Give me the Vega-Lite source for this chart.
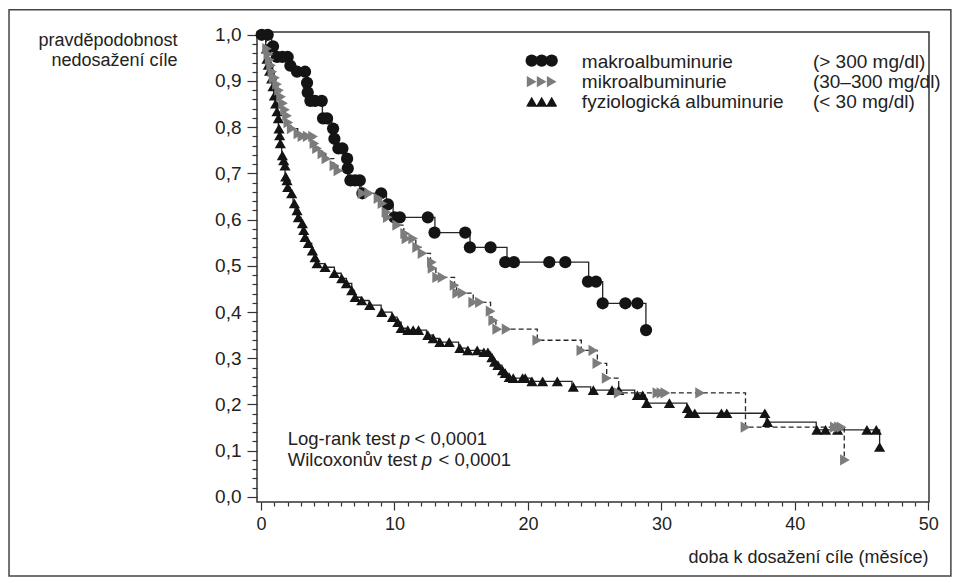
{
  "$schema": "https://vega.github.io/schema/vega-lite/v6.json",
  "width": 672,
  "height": 470,
  "autosize": {"type": "none"},
  "padding": {"left": 257, "top": 32, "right": 29, "bottom": 81},
  "background": "white",
  "config": {
    "font": "Liberation Sans",
    "view": {"stroke": "#333", "strokeWidth": 1.5},
    "axis": {"grid": false, "domain": false, "tickColor": "#333", "tickWidth": 1.2, "labelColor": "#222", "titleColor": "#222", "labelFont": "Liberation Sans", "titleFont": "Liberation Sans", "titleFontWeight": "normal", "labelOverlap": false, "labelBound": false, "labelFlush": false}
  },
  "datasets": {
    "makro_steps": [
      {"t": 0, "s": 1}, {"t": 0.8, "s": 0.975}, {"t": 1.15, "s": 0.952}, {"t": 2.1, "s": 0.933}, {"t": 2.6, "s": 0.92},
      {"t": 3.4, "s": 0.896}, {"t": 3.48, "s": 0.875}, {"t": 3.6, "s": 0.857}, {"t": 4.6, "s": 0.819}, {"t": 5.3, "s": 0.797},
      {"t": 5.45, "s": 0.775}, {"t": 5.75, "s": 0.754}, {"t": 6.35, "s": 0.732}, {"t": 6.45, "s": 0.711}, {"t": 6.6, "s": 0.685},
      {"t": 7.5, "s": 0.657}, {"t": 9.4, "s": 0.633}, {"t": 9.9, "s": 0.605}, {"t": 13.03, "s": 0.572}, {"t": 15.66, "s": 0.54},
      {"t": 18.43, "s": 0.508}, {"t": 24.55, "s": 0.466}, {"t": 25.6, "s": 0.419}, {"t": 28.84, "s": 0.361}
    ],
    "makro_pts": [
      {"t": 0.05, "s": 1}, {"t": 0.5, "s": 1}, {"t": 0.9, "s": 0.975}, {"t": 1.2, "s": 0.952}, {"t": 1.6, "s": 0.952},
      {"t": 2.0, "s": 0.952}, {"t": 2.2, "s": 0.933}, {"t": 2.7, "s": 0.92}, {"t": 3.3, "s": 0.92}, {"t": 3.45, "s": 0.896},
      {"t": 3.5, "s": 0.875}, {"t": 3.7, "s": 0.857}, {"t": 4.05, "s": 0.857}, {"t": 4.55, "s": 0.857}, {"t": 4.65, "s": 0.819},
      {"t": 4.95, "s": 0.819}, {"t": 5.4, "s": 0.797}, {"t": 5.5, "s": 0.775}, {"t": 5.8, "s": 0.754}, {"t": 6.1, "s": 0.754},
      {"t": 6.45, "s": 0.732}, {"t": 6.5, "s": 0.711}, {"t": 6.7, "s": 0.685}, {"t": 7.05, "s": 0.685}, {"t": 7.4, "s": 0.685},
      {"t": 7.6, "s": 0.657}, {"t": 9.0, "s": 0.657}, {"t": 9.5, "s": 0.633}, {"t": 10.0, "s": 0.605}, {"t": 10.4, "s": 0.605},
      {"t": 12.5, "s": 0.605}, {"t": 13.0, "s": 0.572}, {"t": 15.3, "s": 0.572}, {"t": 15.65, "s": 0.54}, {"t": 17.2, "s": 0.54},
      {"t": 18.3, "s": 0.508}, {"t": 18.95, "s": 0.508}, {"t": 21.6, "s": 0.508}, {"t": 22.8, "s": 0.508}, {"t": 24.5, "s": 0.466},
      {"t": 25.1, "s": 0.466}, {"t": 25.6, "s": 0.419}, {"t": 27.3, "s": 0.419}, {"t": 28.2, "s": 0.419}, {"t": 28.85, "s": 0.361}
    ],
    "mikro_steps": [
      {"t": 0, "s": 1}, {"t": 0.35, "s": 0.985}, {"t": 0.5, "s": 0.97}, {"t": 0.6, "s": 0.958}, {"t": 0.7, "s": 0.946},
      {"t": 0.8, "s": 0.934}, {"t": 0.9, "s": 0.92}, {"t": 1.0, "s": 0.907}, {"t": 1.15, "s": 0.893}, {"t": 1.3, "s": 0.88},
      {"t": 1.45, "s": 0.866}, {"t": 1.6, "s": 0.852}, {"t": 1.75, "s": 0.838}, {"t": 1.9, "s": 0.825}, {"t": 2.0, "s": 0.81},
      {"t": 2.25, "s": 0.797}, {"t": 2.75, "s": 0.786}, {"t": 3.05, "s": 0.78}, {"t": 3.95, "s": 0.765}, {"t": 4.15, "s": 0.754},
      {"t": 4.55, "s": 0.743}, {"t": 4.85, "s": 0.732}, {"t": 5.45, "s": 0.717}, {"t": 5.75, "s": 0.706}, {"t": 6.5, "s": 0.695},
      {"t": 7.4, "s": 0.657}, {"t": 8.6, "s": 0.646}, {"t": 9.0, "s": 0.635}, {"t": 9.3, "s": 0.616}, {"t": 9.45, "s": 0.605},
      {"t": 10.1, "s": 0.588}, {"t": 10.7, "s": 0.57}, {"t": 10.85, "s": 0.559}, {"t": 11.6, "s": 0.54}, {"t": 12.0, "s": 0.527},
      {"t": 12.7, "s": 0.508}, {"t": 12.75, "s": 0.495}, {"t": 13.1, "s": 0.475}, {"t": 14.5, "s": 0.458}, {"t": 14.65, "s": 0.441},
      {"t": 15.9, "s": 0.421}, {"t": 17.2, "s": 0.402}, {"t": 17.3, "s": 0.382}, {"t": 17.6, "s": 0.363}, {"t": 20.7, "s": 0.339},
      {"t": 24.0, "s": 0.317}, {"t": 25.2, "s": 0.289}, {"t": 25.9, "s": 0.257}, {"t": 26.8, "s": 0.225}, {"t": 36.3, "s": 0.151},
      {"t": 43.7, "s": 0.08}
    ],
    "mikro_pts": [
      {"t": 0.45, "s": 0.97}, {"t": 0.55, "s": 0.958}, {"t": 0.65, "s": 0.946}, {"t": 0.75, "s": 0.934}, {"t": 0.85, "s": 0.92},
      {"t": 0.95, "s": 0.907}, {"t": 1.05, "s": 0.907}, {"t": 1.2, "s": 0.893}, {"t": 1.35, "s": 0.88}, {"t": 1.5, "s": 0.866},
      {"t": 1.65, "s": 0.852}, {"t": 1.8, "s": 0.838}, {"t": 1.95, "s": 0.825}, {"t": 2.05, "s": 0.81}, {"t": 2.3, "s": 0.797},
      {"t": 2.8, "s": 0.786}, {"t": 3.1, "s": 0.78}, {"t": 3.5, "s": 0.78}, {"t": 3.9, "s": 0.78}, {"t": 4.0, "s": 0.765},
      {"t": 4.2, "s": 0.754}, {"t": 4.6, "s": 0.743}, {"t": 4.9, "s": 0.732}, {"t": 5.5, "s": 0.717}, {"t": 5.8, "s": 0.706},
      {"t": 7.6, "s": 0.657}, {"t": 8.1, "s": 0.657}, {"t": 8.8, "s": 0.646}, {"t": 9.1, "s": 0.635}, {"t": 9.4, "s": 0.616},
      {"t": 9.5, "s": 0.605}, {"t": 10.2, "s": 0.588}, {"t": 10.8, "s": 0.57}, {"t": 10.9, "s": 0.559}, {"t": 11.4, "s": 0.559},
      {"t": 11.7, "s": 0.54}, {"t": 12.1, "s": 0.527}, {"t": 12.8, "s": 0.508}, {"t": 12.85, "s": 0.495}, {"t": 13.2, "s": 0.475},
      {"t": 13.6, "s": 0.475}, {"t": 14.5, "s": 0.458}, {"t": 14.7, "s": 0.441}, {"t": 15.1, "s": 0.441}, {"t": 15.9, "s": 0.421},
      {"t": 16.4, "s": 0.421}, {"t": 17.2, "s": 0.402}, {"t": 17.4, "s": 0.382}, {"t": 17.7, "s": 0.363}, {"t": 18.4, "s": 0.363},
      {"t": 20.7, "s": 0.339}, {"t": 24.0, "s": 0.317}, {"t": 24.9, "s": 0.317}, {"t": 25.2, "s": 0.289}, {"t": 25.9, "s": 0.257},
      {"t": 26.8, "s": 0.225}, {"t": 29.7, "s": 0.225}, {"t": 30.0, "s": 0.225}, {"t": 30.3, "s": 0.225}, {"t": 32.9, "s": 0.225},
      {"t": 36.3, "s": 0.151}, {"t": 43.0, "s": 0.151}, {"t": 43.3, "s": 0.151}, {"t": 43.5, "s": 0.151}, {"t": 43.75, "s": 0.08}
    ],
    "fyzio_steps": [
      {"t": 0, "s": 1}, {"t": 0.35, "s": 0.97}, {"t": 0.45, "s": 0.948}, {"t": 0.55, "s": 0.935}, {"t": 0.65, "s": 0.922},
      {"t": 0.75, "s": 0.905}, {"t": 0.85, "s": 0.888}, {"t": 0.95, "s": 0.868}, {"t": 1.05, "s": 0.851}, {"t": 1.15, "s": 0.834},
      {"t": 1.25, "s": 0.819}, {"t": 1.3, "s": 0.797}, {"t": 1.35, "s": 0.782}, {"t": 1.4, "s": 0.765}, {"t": 1.55, "s": 0.739},
      {"t": 1.65, "s": 0.728}, {"t": 1.75, "s": 0.717}, {"t": 1.8, "s": 0.693}, {"t": 1.85, "s": 0.685}, {"t": 1.95, "s": 0.67},
      {"t": 2.2, "s": 0.657}, {"t": 2.4, "s": 0.635}, {"t": 2.55, "s": 0.62}, {"t": 2.7, "s": 0.605}, {"t": 3.0, "s": 0.592},
      {"t": 3.1, "s": 0.577}, {"t": 3.25, "s": 0.562}, {"t": 3.5, "s": 0.549}, {"t": 3.8, "s": 0.533}, {"t": 4.0, "s": 0.518},
      {"t": 4.2, "s": 0.505}, {"t": 4.75, "s": 0.497}, {"t": 5.5, "s": 0.484}, {"t": 6.0, "s": 0.473}, {"t": 6.4, "s": 0.462},
      {"t": 6.8, "s": 0.447}, {"t": 7.0, "s": 0.432}, {"t": 7.5, "s": 0.425}, {"t": 8.1, "s": 0.415}, {"t": 9.0, "s": 0.4},
      {"t": 9.8, "s": 0.389}, {"t": 10.2, "s": 0.378}, {"t": 10.5, "s": 0.365}, {"t": 11.0, "s": 0.361}, {"t": 12.4, "s": 0.35},
      {"t": 12.9, "s": 0.343}, {"t": 13.3, "s": 0.335}, {"t": 14.8, "s": 0.322}, {"t": 15.4, "s": 0.317}, {"t": 16.6, "s": 0.313},
      {"t": 17.2, "s": 0.302}, {"t": 17.45, "s": 0.292}, {"t": 17.7, "s": 0.285}, {"t": 18.05, "s": 0.274}, {"t": 18.25, "s": 0.268},
      {"t": 18.5, "s": 0.259}, {"t": 18.7, "s": 0.257}, {"t": 20.2, "s": 0.25}, {"t": 23.3, "s": 0.238}, {"t": 24.7, "s": 0.231},
      {"t": 28.0, "s": 0.22}, {"t": 28.8, "s": 0.203}, {"t": 31.9, "s": 0.192}, {"t": 32.05, "s": 0.181}, {"t": 37.85, "s": 0.162},
      {"t": 41.6, "s": 0.145}, {"t": 46.35, "s": 0.108}
    ],
    "fyzio_pts": [
      {"t": 0.4, "s": 0.97}, {"t": 0.45, "s": 0.948}, {"t": 0.55, "s": 0.935}, {"t": 0.65, "s": 0.922}, {"t": 0.8, "s": 0.905},
      {"t": 0.9, "s": 0.888}, {"t": 1.0, "s": 0.868}, {"t": 1.1, "s": 0.851}, {"t": 1.2, "s": 0.834}, {"t": 1.3, "s": 0.819},
      {"t": 1.35, "s": 0.797}, {"t": 1.4, "s": 0.782}, {"t": 1.45, "s": 0.765}, {"t": 1.6, "s": 0.739}, {"t": 1.7, "s": 0.728},
      {"t": 1.8, "s": 0.717}, {"t": 1.85, "s": 0.693}, {"t": 1.95, "s": 0.685}, {"t": 2.0, "s": 0.67}, {"t": 2.3, "s": 0.657},
      {"t": 2.5, "s": 0.635}, {"t": 2.7, "s": 0.62}, {"t": 2.8, "s": 0.605}, {"t": 3.1, "s": 0.592}, {"t": 3.2, "s": 0.577},
      {"t": 3.3, "s": 0.562}, {"t": 3.55, "s": 0.549}, {"t": 3.85, "s": 0.533}, {"t": 4.05, "s": 0.518}, {"t": 4.2, "s": 0.505},
      {"t": 4.8, "s": 0.497}, {"t": 5.5, "s": 0.484}, {"t": 6.05, "s": 0.473}, {"t": 6.4, "s": 0.462}, {"t": 6.8, "s": 0.447},
      {"t": 7.05, "s": 0.432}, {"t": 7.55, "s": 0.425}, {"t": 8.15, "s": 0.415}, {"t": 9.05, "s": 0.4}, {"t": 9.85, "s": 0.389},
      {"t": 10.25, "s": 0.378}, {"t": 10.5, "s": 0.365}, {"t": 11.0, "s": 0.361}, {"t": 11.4, "s": 0.361}, {"t": 11.8, "s": 0.361},
      {"t": 12.5, "s": 0.35}, {"t": 12.9, "s": 0.343}, {"t": 13.4, "s": 0.335}, {"t": 14.1, "s": 0.335}, {"t": 14.9, "s": 0.322},
      {"t": 15.5, "s": 0.317}, {"t": 16.2, "s": 0.317}, {"t": 16.7, "s": 0.313}, {"t": 17.0, "s": 0.313}, {"t": 17.3, "s": 0.302},
      {"t": 17.5, "s": 0.292}, {"t": 17.75, "s": 0.285}, {"t": 18.1, "s": 0.274}, {"t": 18.3, "s": 0.268}, {"t": 18.6, "s": 0.259},
      {"t": 18.9, "s": 0.257}, {"t": 19.6, "s": 0.257}, {"t": 19.8, "s": 0.257}, {"t": 20.3, "s": 0.25}, {"t": 21.1, "s": 0.25},
      {"t": 22.2, "s": 0.25}, {"t": 23.4, "s": 0.238}, {"t": 24.9, "s": 0.231}, {"t": 26.3, "s": 0.231}, {"t": 26.8, "s": 0.231},
      {"t": 28.2, "s": 0.22}, {"t": 28.6, "s": 0.22}, {"t": 28.9, "s": 0.203}, {"t": 30.6, "s": 0.203}, {"t": 31.95, "s": 0.192},
      {"t": 32.1, "s": 0.181}, {"t": 32.5, "s": 0.181}, {"t": 34.5, "s": 0.181}, {"t": 34.9, "s": 0.181}, {"t": 37.75, "s": 0.181},
      {"t": 37.95, "s": 0.162}, {"t": 41.65, "s": 0.145}, {"t": 42.3, "s": 0.145}, {"t": 43.2, "s": 0.145}, {"t": 45.4, "s": 0.145},
      {"t": 46.1, "s": 0.145}, {"t": 46.35, "s": 0.108}
    ]
  },
  "layer": [
    {
      "data": {"values": [{}]},
      "mark": {"type": "rect", "fillOpacity": 0, "stroke": "#444", "strokeWidth": 1.5},
      "encoding": {
        "x": {"datum": -18.88, "type": "quantitative", "scale": {"domain": [-0.3, 50.05], "nice": false, "zero": false}, "axis": null},
        "x2": {"datum": 51.69},
        "y": {"datum": 1.054, "type": "quantitative", "scale": {"domain": [-0.011, 1.006], "nice": false, "zero": false}, "axis": null},
        "y2": {"datum": -0.171}
      }
    },
    {
      "data": {"name": "makro_steps"},
      "mark": {"type": "line", "interpolate": "step-after", "color": "#262626", "strokeWidth": 1.3},
      "encoding": {
        "x": {"field": "t", "type": "quantitative", "scale": {"domain": [-0.3, 50.05], "nice": false, "zero": false},
          "axis": {"orient": "bottom", "values": [0, 10, 20, 30, 40, 50], "format": "d", "tickSize": 8, "labelFontSize": 18, "labelPadding": 5,
            "title": "doba k dosažení cíle (měsíce)", "titleFontSize": 18, "titleAlign": "right", "titleAnchor": null, "titleBaseline": "alphabetic", "titleX": 671, "titleY": 60}},
        "y": {"field": "s", "type": "quantitative", "scale": {"domain": [-0.011, 1.006], "nice": false, "zero": false},
          "axis": {"orient": "left", "values": [0, 0.1, 0.2, 0.3, 0.4, 0.5, 0.6, 0.7, 0.8, 0.9, 1.0], "labelExpr": "replace(format(datum.value, '.1f'), '.', ',')",
            "tickSize": 10, "labelFontSize": 19, "labelPadding": 6,
            "title": ["pravděpodobnost", "nedosažení cíle"], "titleFontSize": 18, "titleAngle": 0, "titleAlign": "right", "titleBaseline": "alphabetic", "titleX": -80, "titleY": 13.5, "titleLineHeight": 20}}
      }
    },
    {
      "data": {"name": "mikro_steps"},
      "mark": {"type": "line", "interpolate": "step-after", "color": "#262626", "strokeWidth": 1.3, "strokeDash": [5, 3]},
      "encoding": {
        "x": {"field": "t", "type": "quantitative", "scale": {"domain": [-0.3, 50.05], "nice": false, "zero": false}, "axis": null},
        "y": {"field": "s", "type": "quantitative", "scale": {"domain": [-0.011, 1.006], "nice": false, "zero": false}, "axis": null}
      }
    },
    {
      "data": {"name": "fyzio_steps"},
      "mark": {"type": "line", "interpolate": "step-after", "color": "#262626", "strokeWidth": 1.3},
      "encoding": {
        "x": {"field": "t", "type": "quantitative", "scale": {"domain": [-0.3, 50.05], "nice": false, "zero": false}, "axis": null},
        "y": {"field": "s", "type": "quantitative", "scale": {"domain": [-0.011, 1.006], "nice": false, "zero": false}, "axis": null}
      }
    },
    {
      "data": {"name": "makro_pts"},
      "mark": {"type": "point", "shape": "circle", "filled": true, "opacity": 1, "size": 150, "color": "#141414"},
      "encoding": {
        "x": {"field": "t", "type": "quantitative", "scale": {"domain": [-0.3, 50.05], "nice": false, "zero": false},
          "axis": {"orient": "bottom", "values": [1,2,3,4,5,6,7,8,9,11,12,13,14,15,16,17,18,19,21,22,23,24,25,26,27,28,29,31,32,33,34,35,36,37,38,39,41,42,43,44,45,46,47,48,49], "tickSize": 4, "labels": false, "title": null}},
        "y": {"field": "s", "type": "quantitative", "scale": {"domain": [-0.011, 1.006], "nice": false, "zero": false},
          "axis": {"orient": "left", "values": [0.02,0.04,0.06,0.08,0.12,0.14,0.16,0.18,0.22,0.24,0.26,0.28,0.32,0.34,0.36,0.38,0.42,0.44,0.46,0.48,0.52,0.54,0.56,0.58,0.62,0.64,0.66,0.68,0.72,0.74,0.76,0.78,0.82,0.84,0.86,0.88,0.92,0.94,0.96,0.98], "tickSize": 5, "labels": false, "title": null}}
      }
    },
    {
      "data": {"name": "fyzio_pts"},
      "mark": {"type": "point", "shape": "triangle-up", "filled": true, "opacity": 1, "size": 125, "color": "#141414"},
      "encoding": {
        "x": {"field": "t", "type": "quantitative", "scale": {"domain": [-0.3, 50.05], "nice": false, "zero": false}, "axis": null},
        "y": {"field": "s", "type": "quantitative", "scale": {"domain": [-0.011, 1.006], "nice": false, "zero": false}, "axis": null}
      }
    },
    {
      "data": {"name": "mikro_pts"},
      "mark": {"type": "point", "shape": "triangle-right", "filled": true, "opacity": 1, "size": 125, "color": "#7c7c7c"},
      "encoding": {
        "x": {"field": "t", "type": "quantitative", "scale": {"domain": [-0.3, 50.05], "nice": false, "zero": false}, "axis": null},
        "y": {"field": "s", "type": "quantitative", "scale": {"domain": [-0.011, 1.006], "nice": false, "zero": false}, "axis": null}
      }
    },
    {"data": {"values": [{}]}, "mark": {"type": "rule", "color": "#262626", "strokeWidth": 1.3},
      "encoding": {"x": {"datum": 20.0, "type": "quantitative", "scale": {"domain": [-0.3, 50.05], "nice": false, "zero": false}, "axis": null},
        "x2": {"datum": 22.1},
        "y": {"datum": 0.846, "type": "quantitative", "scale": {"domain": [-0.011, 1.006], "nice": false, "zero": false}, "axis": null}}},
    {"data": {"values": [{}]}, "mark": {"type": "point", "shape": "circle", "filled": true, "opacity": 1, "size": 150, "color": "#141414"},
      "encoding": {"x": {"datum": 20.28, "type": "quantitative", "scale": {"domain": [-0.3, 50.05], "nice": false, "zero": false}, "axis": null},
        "y": {"datum": 0.944, "type": "quantitative", "scale": {"domain": [-0.011, 1.006], "nice": false, "zero": false}, "axis": null}}},
    {"data": {"values": [{}]}, "mark": {"type": "point", "shape": "circle", "filled": true, "opacity": 1, "size": 150, "color": "#141414"},
      "encoding": {"x": {"datum": 21.03, "type": "quantitative", "scale": {"domain": [-0.3, 50.05], "nice": false, "zero": false}, "axis": null},
        "y": {"datum": 0.944, "type": "quantitative", "scale": {"domain": [-0.011, 1.006], "nice": false, "zero": false}, "axis": null}}},
    {"data": {"values": [{}]}, "mark": {"type": "point", "shape": "circle", "filled": true, "opacity": 1, "size": 150, "color": "#141414"},
      "encoding": {"x": {"datum": 21.78, "type": "quantitative", "scale": {"domain": [-0.3, 50.05], "nice": false, "zero": false}, "axis": null},
        "y": {"datum": 0.944, "type": "quantitative", "scale": {"domain": [-0.011, 1.006], "nice": false, "zero": false}, "axis": null}}},
    {"data": {"values": [{}]}, "mark": {"type": "point", "shape": "triangle-right", "filled": true, "opacity": 1, "size": 125, "color": "#7c7c7c"},
      "encoding": {"x": {"datum": 20.28, "type": "quantitative", "scale": {"domain": [-0.3, 50.05], "nice": false, "zero": false}, "axis": null},
        "y": {"datum": 0.8985, "type": "quantitative", "scale": {"domain": [-0.011, 1.006], "nice": false, "zero": false}, "axis": null}}},
    {"data": {"values": [{}]}, "mark": {"type": "point", "shape": "triangle-right", "filled": true, "opacity": 1, "size": 125, "color": "#7c7c7c"},
      "encoding": {"x": {"datum": 21.03, "type": "quantitative", "scale": {"domain": [-0.3, 50.05], "nice": false, "zero": false}, "axis": null},
        "y": {"datum": 0.8985, "type": "quantitative", "scale": {"domain": [-0.011, 1.006], "nice": false, "zero": false}, "axis": null}}},
    {"data": {"values": [{}]}, "mark": {"type": "point", "shape": "triangle-right", "filled": true, "opacity": 1, "size": 125, "color": "#7c7c7c"},
      "encoding": {"x": {"datum": 21.78, "type": "quantitative", "scale": {"domain": [-0.3, 50.05], "nice": false, "zero": false}, "axis": null},
        "y": {"datum": 0.8985, "type": "quantitative", "scale": {"domain": [-0.011, 1.006], "nice": false, "zero": false}, "axis": null}}},
    {"data": {"values": [{}]}, "mark": {"type": "point", "shape": "triangle-up", "filled": true, "opacity": 1, "size": 125, "color": "#141414"},
      "encoding": {"x": {"datum": 20.28, "type": "quantitative", "scale": {"domain": [-0.3, 50.05], "nice": false, "zero": false}, "axis": null},
        "y": {"datum": 0.8553, "type": "quantitative", "scale": {"domain": [-0.011, 1.006], "nice": false, "zero": false}, "axis": null}}},
    {"data": {"values": [{}]}, "mark": {"type": "point", "shape": "triangle-up", "filled": true, "opacity": 1, "size": 125, "color": "#141414"},
      "encoding": {"x": {"datum": 21.03, "type": "quantitative", "scale": {"domain": [-0.3, 50.05], "nice": false, "zero": false}, "axis": null},
        "y": {"datum": 0.8553, "type": "quantitative", "scale": {"domain": [-0.011, 1.006], "nice": false, "zero": false}, "axis": null}}},
    {"data": {"values": [{}]}, "mark": {"type": "point", "shape": "triangle-up", "filled": true, "opacity": 1, "size": 125, "color": "#141414"},
      "encoding": {"x": {"datum": 21.78, "type": "quantitative", "scale": {"domain": [-0.3, 50.05], "nice": false, "zero": false}, "axis": null},
        "y": {"datum": 0.8553, "type": "quantitative", "scale": {"domain": [-0.011, 1.006], "nice": false, "zero": false}, "axis": null}}},
    {"data": {"values": [{}]},
      "mark": {"type": "text", "text": ["makroalbuminurie", "mikroalbuminurie", "fyziologická albuminurie"], "align": "left", "baseline": "alphabetic", "lineHeight": 20, "font": "Liberation Sans", "fontSize": 19, "color": "#222"},
      "encoding": {"x": {"datum": 24.04, "type": "quantitative", "scale": {"domain": [-0.3, 50.05], "nice": false, "zero": false}, "axis": null},
        "y": {"datum": 0.9287, "type": "quantitative", "scale": {"domain": [-0.011, 1.006], "nice": false, "zero": false}, "axis": null}}},
    {"data": {"values": [{}]},
      "mark": {"type": "text", "text": ["(> 300 mg/dl)", "(30–300 mg/dl)", "(< 30 mg/dl)"], "align": "left", "baseline": "alphabetic", "lineHeight": 20, "font": "Liberation Sans", "fontSize": 19, "color": "#222"},
      "encoding": {"x": {"datum": 41.35, "type": "quantitative", "scale": {"domain": [-0.3, 50.05], "nice": false, "zero": false}, "axis": null},
        "y": {"datum": 0.9287, "type": "quantitative", "scale": {"domain": [-0.011, 1.006], "nice": false, "zero": false}, "axis": null}}},
    {"data": {"values": [{}]},
      "mark": {"type": "text", "text": ["Log-rank test", "Wilcoxonův test"], "align": "left", "baseline": "alphabetic", "lineHeight": 21, "font": "Liberation Sans", "fontSize": 18.5, "color": "#222"},
      "encoding": {"x": {"datum": 2.0, "type": "quantitative", "scale": {"domain": [-0.3, 50.05], "nice": false, "zero": false}, "axis": null},
        "y": {"datum": 0.1123, "type": "quantitative", "scale": {"domain": [-0.011, 1.006], "nice": false, "zero": false}, "axis": null}}},
    {"data": {"values": [{}]},
      "mark": {"type": "text", "text": "p", "align": "left", "baseline": "alphabetic", "font": "Liberation Sans", "fontStyle": "italic", "fontSize": 18.5, "color": "#222"},
      "encoding": {"x": {"datum": 10.4, "type": "quantitative", "scale": {"domain": [-0.3, 50.05], "nice": false, "zero": false}, "axis": null},
        "y": {"datum": 0.1123, "type": "quantitative", "scale": {"domain": [-0.011, 1.006], "nice": false, "zero": false}, "axis": null}}},
    {"data": {"values": [{}]},
      "mark": {"type": "text", "text": "p", "align": "left", "baseline": "alphabetic", "font": "Liberation Sans", "fontStyle": "italic", "fontSize": 18.5, "color": "#222"},
      "encoding": {"x": {"datum": 12.05, "type": "quantitative", "scale": {"domain": [-0.3, 50.05], "nice": false, "zero": false}, "axis": null},
        "y": {"datum": 0.067, "type": "quantitative", "scale": {"domain": [-0.011, 1.006], "nice": false, "zero": false}, "axis": null}}},
    {"data": {"values": [{}]},
      "mark": {"type": "text", "text": "< 0,0001", "align": "left", "baseline": "alphabetic", "font": "Liberation Sans", "fontSize": 18.5, "color": "#222"},
      "encoding": {"x": {"datum": 11.5, "type": "quantitative", "scale": {"domain": [-0.3, 50.05], "nice": false, "zero": false}, "axis": null},
        "y": {"datum": 0.1123, "type": "quantitative", "scale": {"domain": [-0.011, 1.006], "nice": false, "zero": false}, "axis": null}}},
    {"data": {"values": [{}]},
      "mark": {"type": "text", "text": "< 0,0001", "align": "left", "baseline": "alphabetic", "font": "Liberation Sans", "fontSize": 18.5, "color": "#222"},
      "encoding": {"x": {"datum": 13.3, "type": "quantitative", "scale": {"domain": [-0.3, 50.05], "nice": false, "zero": false}, "axis": null},
        "y": {"datum": 0.067, "type": "quantitative", "scale": {"domain": [-0.011, 1.006], "nice": false, "zero": false}, "axis": null}}}
  ],
  "resolve": {"axis": {"x": "independent", "y": "independent"}}
}
